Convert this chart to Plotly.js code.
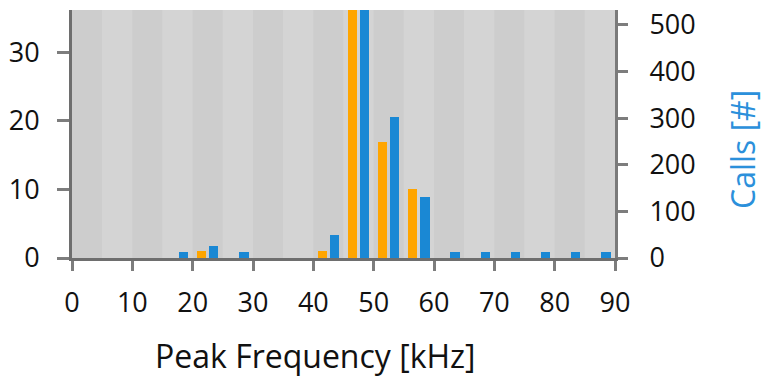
<!DOCTYPE html>
<html>
<head>
<meta charset="utf-8">
<script src="https://cdn.plot.ly/plotly-3.0.1.min.js"></script>
<style>
  html, body { margin: 0; padding: 0; background: #ffffff; }
  #chart { width: 763px; height: 380px; }
</style>
</head>
<body>
<div id="chart"></div>
<script>
// Bin centres (kHz), 5 kHz bins
var binCenters = [2.5, 7.5, 12.5, 17.5, 22.5, 27.5, 32.5, 37.5, 42.5, 47.5, 52.5, 57.5, 62.5, 67.5, 72.5, 77.5, 82.5, 87.5];
// Left-axis series (orange)
var leftCounts = [0, 0, 0, 0, 1, 0, 0, 0, 1, 40, 17, 10, 0, 0, 0, 0, 0, 0];
// Right-axis series: Calls [#] (blue)
var callCounts = [0, 0, 0, 13, 25, 13, 0, 0, 50, 600, 303, 131, 13, 13, 13, 13, 13, 13];
// Tick labels
var xTicks = [0, 10, 20, 30, 40, 50, 60, 70, 80, 90];
var leftTicks = [0, 10, 20, 30];
var rightTicks = [0, 100, 200, 300, 400, 500];

var ORANGE = '#ffa500';
var BLUE = '#1a88d4';
var FONT = '"Open Sans", "Noto Sans", sans-serif';

var traces = [
  {
    type: 'bar', name: 'left', x: binCenters, y: leftCounts,
    xaxis: 'x', yaxis: 'y',
    width: 1.55, offset: -1.8,
    marker: { color: ORANGE, line: { width: 0 } },
    hoverinfo: 'x+y', showlegend: false
  },
  {
    type: 'bar', name: 'Calls', x: binCenters, y: callCounts,
    xaxis: 'x', yaxis: 'y2',
    width: 1.55, offset: 0.22,
    marker: { color: BLUE, line: { width: 0 } },
    hoverinfo: 'x+y', showlegend: false
  }
];

// alternating background bands, one per bin
var shapes = [];
binCenters.forEach(function (c, i) {
  shapes.push({
    type: 'rect', xref: 'x', yref: 'paper', layer: 'below',
    x0: c - 2.5, x1: c + 2.5, y0: 0, y1: 1,
    fillcolor: (i % 2 === 0) ? '#cdcdcd' : '#d4d4d4',
    line: { width: 0 }
  });
});

var tickFont = { family: FONT, size: 27, color: '#111111' };

var layout = {
  width: 763, height: 380,
  margin: { l: 72, r: 148, t: 10, b: 122, pad: 0 },
  paper_bgcolor: '#ffffff',
  plot_bgcolor: '#d4d4d4',
  bargap: 0,
  barmode: 'overlay',
  font: { family: FONT, color: '#111111' },
  xaxis: {
    range: [0, 90], tickvals: xTicks, ticktext: xTicks.map(String),
    showgrid: false, zeroline: false,
    showline: true, linecolor: '#6e6e6e', linewidth: 3,
    ticks: 'outside', ticklen: 10, tickwidth: 3, tickcolor: '#7d7d7d',
    ticklabelstandoff: 9,
    tickfont: tickFont, fixedrange: true
  },
  yaxis: {
    range: [0, 36.2], tickvals: leftTicks, ticktext: leftTicks.map(String),
    showgrid: false, zeroline: false,
    showline: true, linecolor: '#6e6e6e', linewidth: 3,
    ticks: 'outside', ticklen: 12, tickwidth: 3, tickcolor: '#7d7d7d',
    ticklabelstandoff: 12,
    tickfont: tickFont, fixedrange: true
  },
  yaxis2: {
    overlaying: 'y', side: 'right',
    range: [0, 532], tickvals: rightTicks, ticktext: rightTicks.map(String),
    showgrid: false, zeroline: false,
    showline: true, linecolor: '#7a7a7a', linewidth: 3,
    ticks: 'outside', ticklen: 10, tickwidth: 3, tickcolor: '#7d7d7d',
    ticklabelstandoff: 16,
    tickfont: tickFont, fixedrange: true
  },
  shapes: shapes,
  annotations: [
    {
      text: 'Peak Frequency [kHz]', xref: 'paper', yref: 'paper',
      x: (315 - 72) / 543, y: -(356 - 258) / 248,
      xanchor: 'center', yanchor: 'middle', showarrow: false, borderpad: 0,
      font: { family: FONT, size: 32, color: '#111111' }
    },
    {
      text: 'Calls [#]', xref: 'paper', yref: 'paper',
      x: 1 + (742 - 615) / 543, y: (258 - 150) / 248,
      xanchor: 'center', yanchor: 'middle', showarrow: false, textangle: -90, borderpad: 0,
      font: { family: FONT, size: 32, color: '#2b90db' }
    }
  ]
};

Plotly.newPlot('chart', traces, layout, { displayModeBar: false, staticPlot: true });
</script>
</body>
</html>
